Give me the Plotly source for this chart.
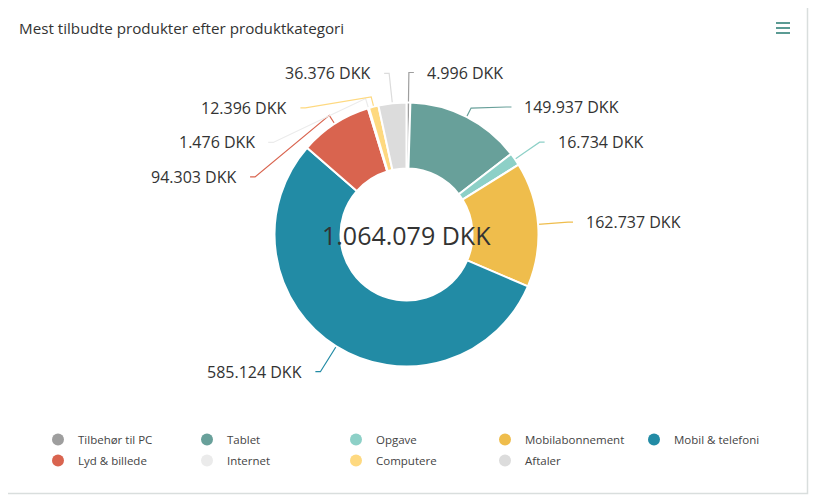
import numpy as np
import plotly.graph_objects as go

# data
kategorier = ["Tilbehør til PC", "Tablet", "Opgave", "Mobilabonnement", "Mobil & telefoni",
              "Lyd & billede", "Internet", "Computere", "Aftaler"]
beloeb = [4996, 149937, 16734, 162737, 585124, 94303, 1476, 12396, 36376]
farver = ["#9e9e9e", "#68a09a", "#8dd0c7", "#efbd4c", "#228ba5",
          "#d9644f", "#ebebeb", "#fed980", "#dcdcdc"]
titel = "Mest tilbudte produkter efter produktkategori"

W, H = 820, 497
OFF = 8                          # page body margin, figure sits at (8, 8)
cx, cy, r = 406.5, 234.5, 132    # donut centre and radius, page pixels
dist = 30                        # label distance
brk = 10                         # connector bend, outside the slice edge
gap = 34.5                       # min vertical spacing between labels
FONT = "Open Sans"


def dkk(v):
    return f"{v:,}".replace(",", ".") + " DKK"


def px_x(p):
    return (p - OFF) / W


def px_y(p):
    return 1 - (p - OFF) / H


fig = go.Figure()

fig.add_trace(go.Pie(labels=kategorier, values=beloeb, hole=0.5, sort=False,
                     direction="clockwise", rotation=0,
                     marker=dict(colors=farver, line=dict(color="white", width=2)),
                     textinfo="none", hoverinfo="label+value", showlegend=False,
                     domain=dict(x=[px_x(cx - r), px_x(cx + r)],
                                 y=[px_y(cy + r), px_y(cy - r)])))

# legend entries with round symbols, two rows of five
for i, (navn, farve) in enumerate(zip(kategorier, farver)):
    fig.add_trace(go.Scatter(x=[None], y=[None], mode="markers", name=navn,
                             legend="legend" if i < 5 else "legend2",
                             marker=dict(size=11, color=farve)))

# label positions, computed from the slice angles
v = np.array(beloeb, dtype=float)
frac = v / v.sum()
start = np.concatenate([[0], np.cumsum(frac)[:-1]])
mid = (start + frac / 2) * 2 * np.pi
R = r + dist
nat_y = cy - R * np.cos(mid)
side = np.where(np.sin(mid) < 0, -1, 1)

lab_y = nat_y.copy()
for s in (-1, 1):
    idx = [i for i in np.argsort(nat_y) if side[i] == s]
    prev = -1e9
    for i in idx:
        lab_y[i] = max(nat_y[i], prev + gap)
        prev = lab_y[i]

shapes = []
annotations = []
for i in range(len(beloeb)):
    s = side[i]
    y = lab_y[i]
    x = cx + s * (R * np.cos(np.arcsin(np.clip((y - cy) / R, -1, 1))) + 5)
    bx, by = cx + (r + brk) * np.sin(mid[i]), cy - (r + brk) * np.cos(mid[i])
    tx, ty = cx + r * np.sin(mid[i]), cy - r * np.cos(mid[i])
    path = (f"M {x:.2f},{y:.2f} L {x - 5 * s:.2f},{y:.2f} L {bx:.2f},{by:.2f} "
            f"L {tx:.2f},{ty:.2f}")
    shapes.append(dict(type="path", path=path, xref="x", yref="y",
                       line=dict(color=farver[i], width=1.2), layer="below"))
    annotations.append(dict(x=x + 11 * s, y=y, xref="x", yref="y", text=dkk(beloeb[i]),
                            showarrow=False, xanchor="left" if s > 0 else "right",
                            yanchor="middle", font=dict(family=FONT, size=16, color="#333333")))

# centre total
annotations.append(dict(x=cx, y=cy, xref="x", yref="y", text=dkk(int(v.sum())), showarrow=False,
                        xanchor="center", yanchor="middle",
                        font=dict(family=FONT, size=25, color="#333333")))
# title
annotations.append(dict(x=17, y=28, xref="x", yref="y", text=titel, showarrow=False,
                        xanchor="left", yanchor="middle",
                        font=dict(family=FONT, size=15.2, color="#333333")))

# card frame, edge line and menu icon
shapes.append(dict(type="rect", xref="x", yref="y", x0=5.5, y0=5.5, x1=807.5, y1=493.5,
                   line=dict(color="#d9dedd", width=1.5), layer="below"))
shapes.append(dict(type="line", xref="x", yref="y", x0=816, y0=0, x1=816, y1=H + OFF,
                   line=dict(color="#dddddd", width=2)))
for yy in (23, 28, 33):
    shapes.append(dict(type="line", xref="x", yref="y", x0=776, y0=yy, x1=790, y1=yy,
                       line=dict(color="#5b9b94", width=2)))

legend_style = dict(orientation="h", xanchor="left", yanchor="top",
                    entrywidth=104, entrywidthmode="pixels", itemsizing="constant",
                    font=dict(family=FONT, size=11.5, color="#444444"),
                    bgcolor="rgba(0,0,0,0)")

fig.update_layout(
    width=W, height=H,
    margin=dict(l=0, r=0, t=0, b=0),
    paper_bgcolor="white", plot_bgcolor="white",
    xaxis=dict(range=[OFF, W + OFF], visible=False, fixedrange=True),
    yaxis=dict(range=[H + OFF, OFF], visible=False, fixedrange=True),
    shapes=shapes, annotations=annotations,
    showlegend=True,
    legend=dict(x=px_x(58 - 20), y=px_y(440 - 15), **legend_style),
    legend2=dict(x=px_x(58 - 20), y=px_y(461 - 15), **legend_style),
    font=dict(family=FONT),
)

fig.write_html("out.html")
